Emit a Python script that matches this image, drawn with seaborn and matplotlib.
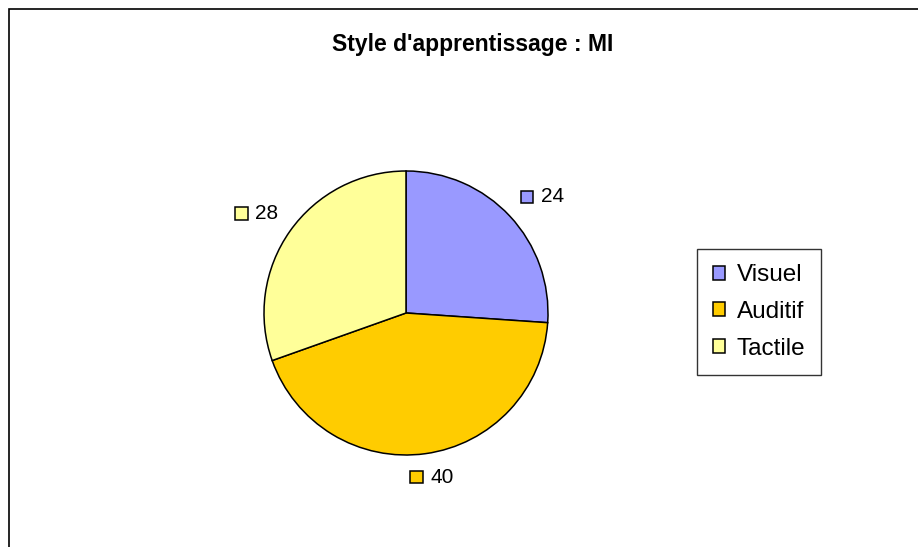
import numpy as np
import matplotlib
matplotlib.use("Agg")
import matplotlib.pyplot as plt
from matplotlib.patches import Rectangle
from matplotlib.offsetbox import DrawingArea, TextArea, HPacker, AnnotationBbox
import seaborn as sns

# data
categories = ["Visuel", "Auditif", "Tactile"]
values = [24, 40, 28]
colors = ["#9999FF", "#FFCC00", "#FFFF99"]
title = "Style d'apprentissage : MI"

sns.set_theme(style="white")
plt.rcParams["font.family"] = ["Liberation Sans", "DejaVu Sans"]
plt.rcParams["text.color"] = "black"

fig = plt.figure(figsize=(9.18, 5.47), dpi=100)

# outer chart frame (left/top visible, rest clipped)
fig.patches.append(Rectangle((9 / 918, -0.1), 1.2, 0.1 + 1 - 9 / 547,
                             transform=fig.transFigure, fill=False,
                             edgecolor="black", linewidth=1.2, zorder=0))

# pie axes: 142 px per data unit in both directions
ax = fig.add_axes([156 / 918, 34 / 547, 500 / 918, 400 / 547])
wedges, _ = ax.pie(values, colors=colors, startangle=90, counterclock=False,
                   wedgeprops=dict(edgecolor="black", linewidth=1.1))
ax.set_aspect("auto")
ax.set_xlim(-250 / 142, 250 / 142)
ax.set_ylim(-200 / 142, 200 / 142)
ax.axis("off")

# data labels with small colour key
for w, v, c in zip(wedges, values, colors):
    mid = np.deg2rad((w.theta1 + w.theta2) / 2)
    cx, cy = np.cos(mid), np.sin(mid)
    r = 1.1
    da = DrawingArea(10, 12, 0, 0)
    da.add_artist(Rectangle((0.5, 1.5), 9, 9, facecolor=c, edgecolor="black", linewidth=1.1))
    ta = TextArea(str(v), textprops=dict(fontsize=15, color="black"))
    box = HPacker(children=[da, ta], align="center", pad=0, sep=5)
    hx = 0.5 - 0.7 * cx if abs(cx) < 0.3 else (0.0 if cx > 0 else 1.0)
    hy = 0.0 if cy > 0 else 1.0
    ab = AnnotationBbox(box, (r * cx, r * cy), xycoords="data",
                        box_alignment=(hx, hy), frameon=False, pad=0)
    ax.add_artist(ab)

leg = fig.legend(wedges, categories, loc="center",
                 bbox_to_anchor=(759 / 918, 1 - 312 / 547),
                 fontsize=17.5, frameon=True, fancybox=False,
                 edgecolor="black", handlelength=0.5, handleheight=0.5,
                 handletextpad=0.5, labelspacing=0.6, borderpad=0.62,
                 borderaxespad=0)
leg.get_frame().set_linewidth(1.0)
for h in leg.legend_handles:
    h.set_linewidth(1.1)

fig.text(473 / 918, 1 - 45 / 547, title, ha="center", va="center",
         fontsize=16.5, fontweight="bold")

fig.savefig("out.png", dpi=100, facecolor="white")
